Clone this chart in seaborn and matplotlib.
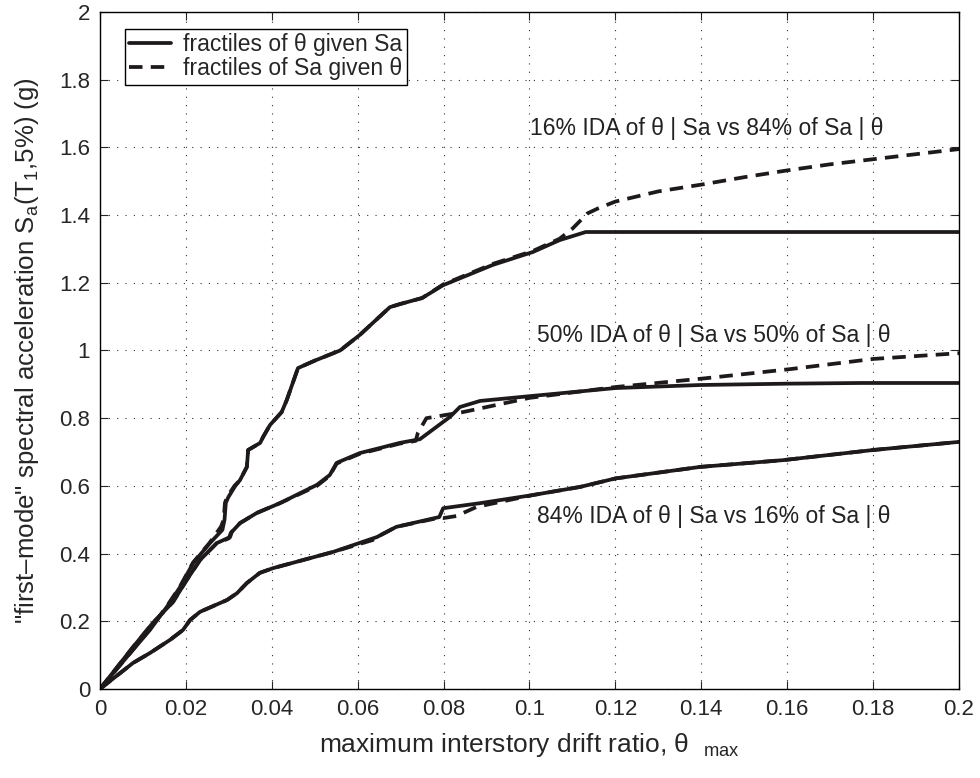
import matplotlib
matplotlib.use("Agg")
import matplotlib.pyplot as plt
import seaborn as sns
import pandas as pd

# ---- data ----
x16_solid = [0, 0.0063, 0.0116, 0.0156, 0.0186, 0.0217, 0.0256, 0.0285, 0.029, 0.0293, 0.0299, 0.0315,
             0.0326, 0.0342, 0.0345, 0.0373, 0.038, 0.0396, 0.0423, 0.0435, 0.0461, 0.050, 0.0559, 0.0605,
             0.0675, 0.0698, 0.075, 0.0799, 0.0915, 0.1008, 0.107, 0.1131, 0.2]
y16_solid = [0, 0.095, 0.174, 0.243, 0.30, 0.372, 0.431, 0.47, 0.50, 0.55, 0.567, 0.60,
             0.617, 0.656, 0.706, 0.727, 0.745, 0.78, 0.818, 0.854, 0.948, 0.970, 1.0, 1.046,
             1.128, 1.137, 1.155, 1.193, 1.253, 1.291, 1.326, 1.35, 1.35]
x16_dash = [0, 0.0063, 0.0116, 0.0156, 0.0186, 0.0217, 0.0256, 0.0282, 0.0288, 0.0291, 0.0296, 0.0313,
            0.0326, 0.0342, 0.0345, 0.0373, 0.038, 0.0396, 0.0423, 0.0435, 0.0461, 0.050, 0.0559, 0.0605,
            0.0675, 0.0698, 0.075, 0.0799, 0.0915, 0.1008, 0.107, 0.110, 0.1135, 0.116, 0.12, 0.13, 0.14,
            0.15, 0.16, 0.17, 0.18, 0.19, 0.2]
y16_dash = [0, 0.095, 0.176, 0.245, 0.302, 0.374, 0.433, 0.48, 0.50, 0.55, 0.567, 0.60,
            0.617, 0.656, 0.706, 0.727, 0.745, 0.78, 0.818, 0.854, 0.948, 0.970, 1.0, 1.046,
            1.128, 1.137, 1.155, 1.195, 1.256, 1.294, 1.33, 1.36, 1.405, 1.42, 1.44, 1.47, 1.49,
            1.512, 1.532, 1.55, 1.565, 1.58, 1.595]

x50_solid = [0, 0.0077, 0.0123, 0.017, 0.0202, 0.0233, 0.0272, 0.0303, 0.0307, 0.0326, 0.0365, 0.0419,
             0.0505, 0.0535, 0.0551, 0.0605, 0.0652, 0.0698, 0.0745, 0.0815, 0.0838, 0.0885, 0.10,
             0.12, 0.1397, 0.16, 0.177, 0.2]
y50_solid = [0, 0.124, 0.195, 0.257, 0.322, 0.381, 0.431, 0.449, 0.464, 0.49, 0.52, 0.549,
             0.603, 0.632, 0.668, 0.697, 0.712, 0.727, 0.738, 0.804, 0.833, 0.851, 0.865,
             0.889, 0.898, 0.902, 0.904, 0.904]
x50_dash = [0, 0.0077, 0.0123, 0.017, 0.0202, 0.0233, 0.0272, 0.0300, 0.0305, 0.0326, 0.0365, 0.0419,
            0.0505, 0.0535, 0.0551, 0.0605, 0.0652, 0.0698, 0.0735, 0.074, 0.076, 0.0845, 0.10,
            0.12, 0.141, 0.1607, 0.18, 0.2]
y50_dash = [0, 0.124, 0.195, 0.257, 0.322, 0.381, 0.431, 0.445, 0.462, 0.49, 0.52, 0.549,
            0.600, 0.630, 0.666, 0.695, 0.710, 0.725, 0.733, 0.756, 0.80, 0.818, 0.86,
            0.892, 0.918, 0.945, 0.975, 0.992]

x84_solid = [0, 0.0077, 0.0116, 0.0163, 0.0193, 0.021, 0.0233, 0.0296, 0.0319, 0.0342, 0.0372, 0.0403,
             0.0543, 0.0645, 0.069, 0.079, 0.0799, 0.0885, 0.1008, 0.1118, 0.12, 0.1397, 0.159,
             0.18, 0.2]
y84_solid = [0, 0.077, 0.106, 0.145, 0.174, 0.204, 0.228, 0.263, 0.283, 0.313, 0.343, 0.357,
             0.405, 0.449, 0.479, 0.508, 0.534, 0.549, 0.573, 0.597, 0.622, 0.656, 0.676,
             0.706, 0.73]
x84_dash = [0, 0.0077, 0.0116, 0.0163, 0.0193, 0.021, 0.0233, 0.0296, 0.0319, 0.0342, 0.0372, 0.0403,
            0.0543, 0.0635, 0.0645, 0.069, 0.079, 0.080, 0.083, 0.0877, 0.1008, 0.1118, 0.12, 0.1397,
            0.159, 0.18, 0.2]
y84_dash = [0, 0.077, 0.106, 0.145, 0.174, 0.204, 0.228, 0.263, 0.283, 0.313, 0.343, 0.357,
            0.405, 0.44, 0.449, 0.479, 0.506, 0.505, 0.511, 0.538, 0.573, 0.597, 0.622, 0.656,
            0.676, 0.706, 0.73]

annot_texts = ["16% IDA of θ | Sa vs 84% of Sa | θ",
               "50% IDA of θ | Sa vs 50% of Sa | θ",
               "84% IDA of θ | Sa vs 16% of Sa | θ"]
annot_x = [0.1001, 0.1017, 0.1017]
annot_y = [1.657, 1.043, 0.511]

xticks = [0, 0.02, 0.04, 0.06, 0.08, 0.1, 0.12, 0.14, 0.16, 0.18, 0.2]
xticklabels = ["0", "0.02", "0.04", "0.06", "0.08", "0.1", "0.12", "0.14", "0.16", "0.18", "0.2"]
yticks = [0, 0.2, 0.4, 0.6, 0.8, 1.0, 1.2, 1.4, 1.6, 1.8, 2.0]
yticklabels = ["0", "0.2", "0.4", "0.6", "0.8", "1", "1.2", "1.4", "1.6", "1.8", "2"]

# ---- style ----
sns.set_style("ticks")
plt.rcParams['font.family'] = ['Liberation Sans', 'DejaVu Sans']
plt.rcParams['mathtext.fontset'] = 'custom'
plt.rcParams['mathtext.rm'] = 'Liberation Sans'
plt.rcParams['mathtext.it'] = 'Liberation Sans'

fig = plt.figure(figsize=(9.8, 7.78), dpi=100)
ax = fig.add_axes([0.102, 0.1144, 0.8766, 0.8702])

col = "#1e1a1b"
lw = 2.7
dash = (3.6, 2.2)
fs = 16

curves = [
    (x16_solid, y16_solid, "-", "fractiles of θ given Sa"),
    (x16_dash, y16_dash, "--", "fractiles of Sa given θ"),
    (x50_solid, y50_solid, "-", None),
    (x50_dash, y50_dash, "--", None),
    (x84_solid, y84_solid, "-", None),
    (x84_dash, y84_dash, "--", None),
]
for xs, ys, ls, lab in curves:
    df = pd.DataFrame({"x": xs, "y": ys})
    sns.lineplot(data=df, x="x", y="y", ax=ax, estimator=None, sort=False,
                 color=col, lw=lw, legend=False)
    if ls == "--":
        ax.lines[-1].set_linestyle((0, dash))
    if lab is not None:
        ax.lines[-1].set_label(lab)

for t, xx, yy in zip(annot_texts, annot_x, annot_y):
    ax.text(xx, yy, t, fontsize=16.5, va="center", ha="left", color="#222222")

ax.set_xlim(0, 0.2)
ax.set_ylim(0, 2)
ax.set_xticks(xticks)
ax.set_xticklabels(xticklabels)
ax.set_yticks(yticks)
ax.set_yticklabels(yticklabels)
ax.tick_params(direction="in", top=True, right=True, labelsize=fs, length=6, width=0.8, pad=7)
ax.grid(True, linestyle=(0, (1, 6.5)), color="#333333", linewidth=0.8)
for s in ax.spines.values():
    s.set_linewidth(1.0)
    s.set_color("black")

xl = ax.set_xlabel(r"maximum interstory drift ratio, θ  $_{\mathregular{max}}$", fontsize=19, labelpad=8)
yl = ax.set_ylabel(r'"first–mode" spectral acceleration S$_{\mathregular{a}}$(T$_{\mathregular{1}}$,5%) (g)',
                   fontsize=16, labelpad=13)

# fit label sizes to the reference extents (pixels)
fig.canvas.draw()
r = fig.canvas.get_renderer()
target_w, target_h = 420.0, 547.0
bbx = xl.get_window_extent(r)
xl.set_fontsize(19 * target_w / bbx.width)
bby = yl.get_window_extent(r)
yl.set_fontsize(16 * target_h / bby.height)

handles = [ax.lines[0], ax.lines[1]]
leg = ax.legend(handles, [h.get_label() for h in handles], loc="upper left",
                bbox_to_anchor=(0.029, 0.975), borderaxespad=0, fancybox=False,
                edgecolor="black", framealpha=1, fontsize=16.5, handlelength=1.8,
                borderpad=0.2, labelspacing=0.02, handletextpad=0.55)
leg.get_frame().set_linewidth(1.0)

fig.savefig("out.png", dpi=100)
